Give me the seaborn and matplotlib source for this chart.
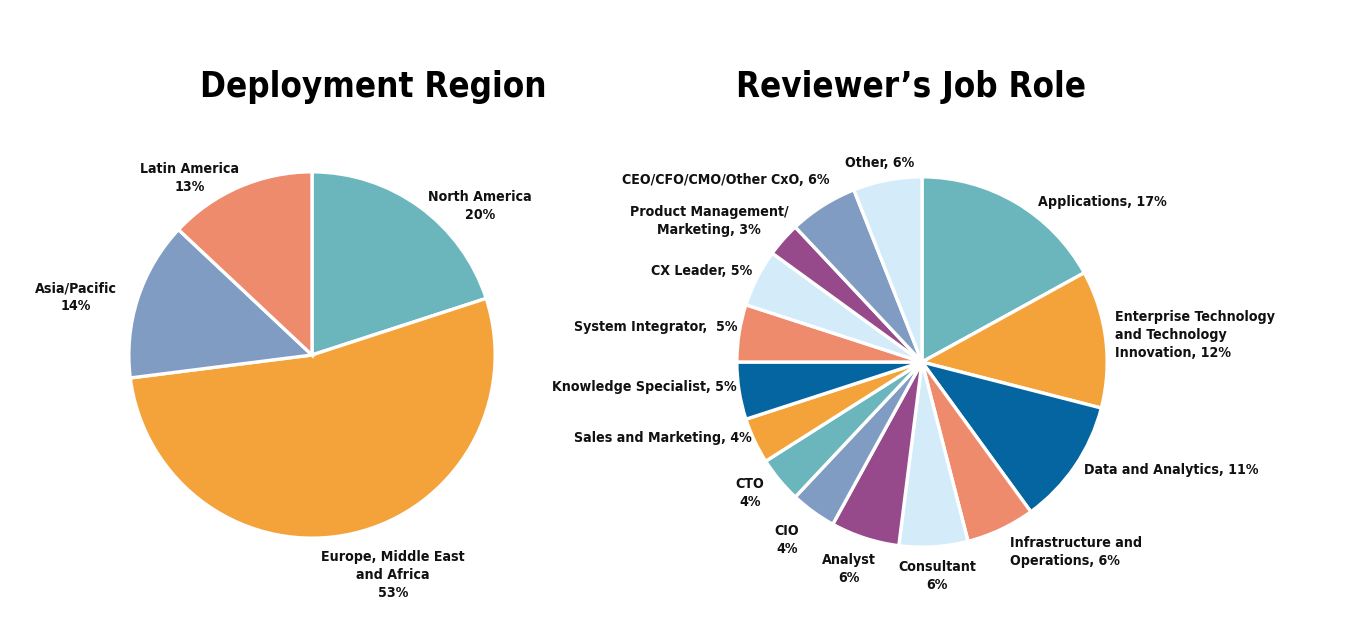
import matplotlib
matplotlib.use("Agg")
import matplotlib.pyplot as plt
import seaborn as sns

# ---------------- data ----------------
region_labels = ["North America", "Europe, Middle East\nand Africa", "Asia/Pacific", "Latin America"]
region_values = [20, 53, 14, 13]

role_labels = ["Applications", "Enterprise Technology\nand Technology\nInnovation", "Data and Analytics",
               "Infrastructure and\nOperations", "Consultant", "Analyst", "CIO", "CTO",
               "Sales and Marketing", "Knowledge Specialist", "System Integrator,", "CX Leader",
               "Product Management/\nMarketing", "CEO/CFO/CMO/Other CxO", "Other"]
role_values = [17, 12, 11, 6, 6, 6, 4, 4, 4, 5, 5, 5, 3, 6, 6]

TEAL, ORANGE, DBLUE, SALMON, LBLUE, PURPLE, GBLUE = (
    "#6BB6BD", "#F4A33B", "#0565A0", "#EF8B6D", "#D4ECF9", "#974A8B", "#819CC3")
region_colors = [TEAL, ORANGE, GBLUE, SALMON]
role_colors = [TEAL, ORANGE, DBLUE, SALMON, LBLUE, PURPLE, GBLUE, TEAL, ORANGE, DBLUE,
               SALMON, LBLUE, PURPLE, GBLUE, LBLUE]

sns.set_theme(style="white")
plt.rcParams["font.family"] = ["DejaVu Sans"]
plt.rcParams["font.stretch"] = "condensed"

W, H = 1345, 639
fig = plt.figure(figsize=(W / 100, H / 100), dpi=100)
fig.patch.set_facecolor("white")


def pie_axes(cx, cy, r):
    return fig.add_axes([(cx - r) / W, (H - cy - r) / H, 2 * r / W, 2 * r / H])


def draw_pie(ax, vals, cols):
    ax.pie(vals, colors=cols, startangle=90, counterclock=False,
           wedgeprops=dict(edgecolor="white", linewidth=2.4))
    ax.set_xlim(-1.01, 1.01)
    ax.set_ylim(-1.01, 1.01)
    ax.axis("off")


ax1 = pie_axes(312, 355, 185)
draw_pie(ax1, region_values, region_colors)
ax2 = pie_axes(922, 362, 187)
draw_pie(ax2, role_values, role_colors)

# overlay for text in pixel coords
ov = fig.add_axes([0, 0, 1, 1])
ov.set_xlim(0, W)
ov.set_ylim(H, 0)
ov.axis("off")
ov.patch.set_alpha(0)

tkw = dict(fontsize=25, fontweight="heavy", fontstretch="condensed",
           ha="center", va="center", color="black")
ov.text(373, 87, "Deployment Region", **tkw)
ov.text(911, 87, "Reviewer\u2019s Job Role", **tkw)

fs = 10.2
lkw = dict(fontsize=fs, fontweight="bold", fontstretch="condensed", color="#111111",
           va="center", linespacing=1.35)

# left pie labels
left_pos = [(480, 206, "center"), (393, 575, "center"), (76, 297, "center"), (190, 178, "center")]
for lab, v, (x, y, ha) in zip(region_labels, region_values, left_pos):
    ov.text(x, y, f"{lab}\n{v}%", ha=ha, multialignment="center", **lkw)

# right pie labels
right_pos = [
    (1038, 202, "left", "comma"),
    (1115, 335, "left", "comma"),
    (1084, 470, "left", "comma"),
    (1010, 552, "left", "comma"),
    (937, 576, "center", "newline"),
    (849, 569, "center", "newline"),
    (787, 540, "center", "newline"),
    (750, 493, "center", "newline"),
    (752, 438, "right", "comma"),
    (737, 387, "right", "comma"),
    (737, 327, "right", "comma_sp"),
    (752, 271, "right", "comma"),
    (709, 221, "center", "comma"),
    (830, 180, "right", "comma"),
    (880, 163, "center", "comma"),
]
for lab, v, (x, y, ha, st) in zip(role_labels, role_values, right_pos):
    if st == "newline":
        txt = f"{lab}\n{v}%"
    elif st == "comma_sp":
        txt = f"{lab}  {v}%"
    else:
        txt = f"{lab}, {v}%"
    ov.text(x, y, txt, ha=ha, multialignment=ha, **lkw)

fig.savefig("out.png", dpi=100, facecolor="white")
